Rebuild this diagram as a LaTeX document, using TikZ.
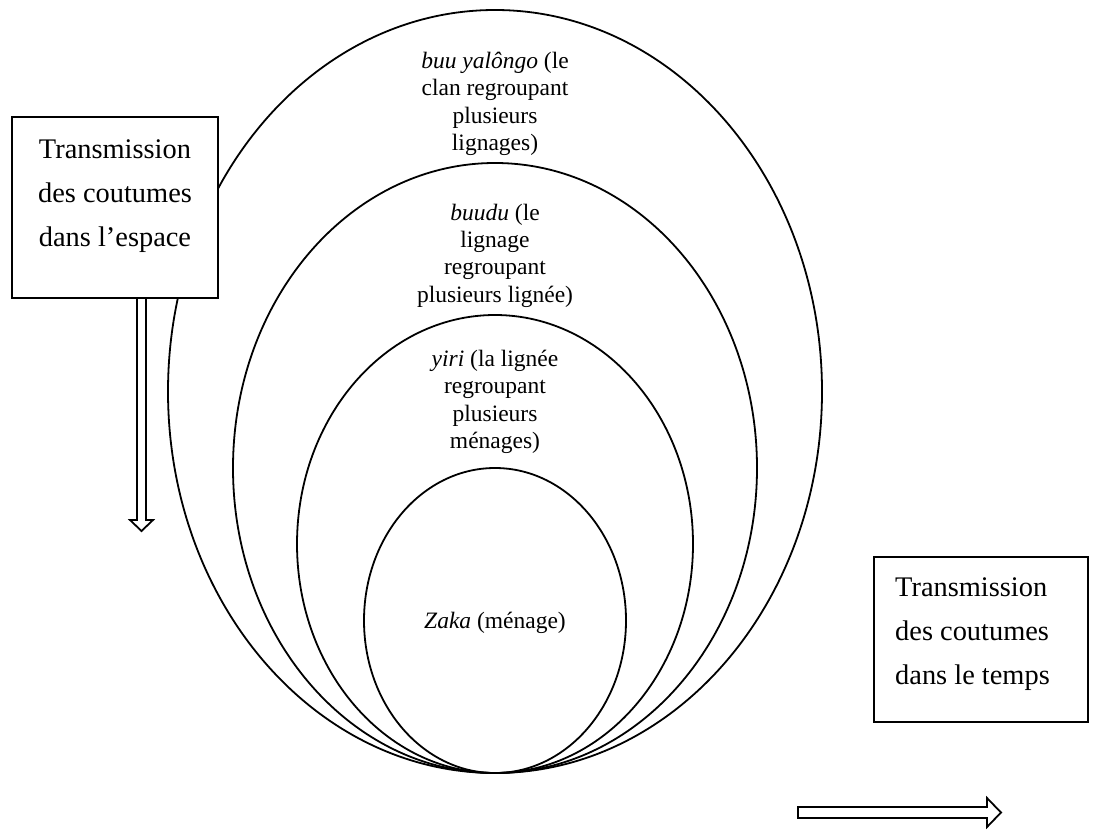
\documentclass[tikz,border=0pt]{standalone}
\usepackage{fontspec}
\setmainfont{Liberation Serif}
\usetikzlibrary{shapes.geometric}
\tikzset{
  ring/.style={draw, ellipse, line width=1.8pt, inner sep=0pt},
  lab/.style={align=center, inner sep=0pt, font=\fontsize{23.5}{27.3}\selectfont},
  frame/.style={draw, rectangle, line width=2pt, inner sep=0pt},
  boxtext/.style={inner sep=0pt, font=\fontsize{28.4}{44}\selectfont},
  hollowarrow/.style={draw, line width=1.8pt, line join=miter, fill=white}
}
\begin{document}
\begin{tikzpicture}[x=1pt,y=-1pt]
\useasboundingbox (0,0) rectangle (1097,832);
% nested ellipses
\node[ring, minimum width=654pt, minimum height=763pt] (clan) at (495,391.5) {};
\node[ring, minimum width=524pt, minimum height=610pt] (lignage) at (495,468) {};
\node[ring, minimum width=396pt, minimum height=458pt] (lignee) at (495,544) {};
\node[ring, minimum width=262pt, minimum height=305pt] (menage) at (495,620.5) {};
% labels
\node[lab] (clanlab) at (495,104) {\textit{buu yalôngo} (le\\clan regroupant\\plusieurs\\lignages)};
\node[lab] (lignagelab) at (495,255.5) {\textit{buudu} (le\\lignage\\regroupant\\plusieurs lignée)};
\node[lab] (ligneelab) at (495,402) {\textit{yiri} (la lignée\\regroupant\\plusieurs\\ménages)};
\node[lab] (menagelab) at (495,623) {\textit{Zaka} (ménage)};
% left box
\node[frame, fill=white, minimum width=206pt, minimum height=181pt] (espace) at (115,207.5) {};
\node[boxtext, align=center] (espacetext) at (115,196) {Transmission\\des coutumes\\dans l’espace};
% right box
\node[frame, minimum width=214pt, minimum height=165pt] (temps) at (981,639.5) {};
\node[boxtext, align=left, anchor=west] (tempstext) at (895,634.5) {Transmission\\des coutumes\\dans le temps};
% vertical hollow arrow
\coordinate (vtip) at (141.5,531);
\draw[hollowarrow] (espace.south -| 137,0) -- (137,520) -- (130,520) -- (vtip) -- (153,520) -- (146,520) -- (espace.south -| 146,0);
% horizontal hollow arrow
\coordinate (htip) at (1001,812.5);
\draw[hollowarrow] (798,807) -- (987,807) -- (987,798) -- (htip) -- (987,827) -- (987,818) -- (798,818) -- cycle;
\end{tikzpicture}
\end{document}
